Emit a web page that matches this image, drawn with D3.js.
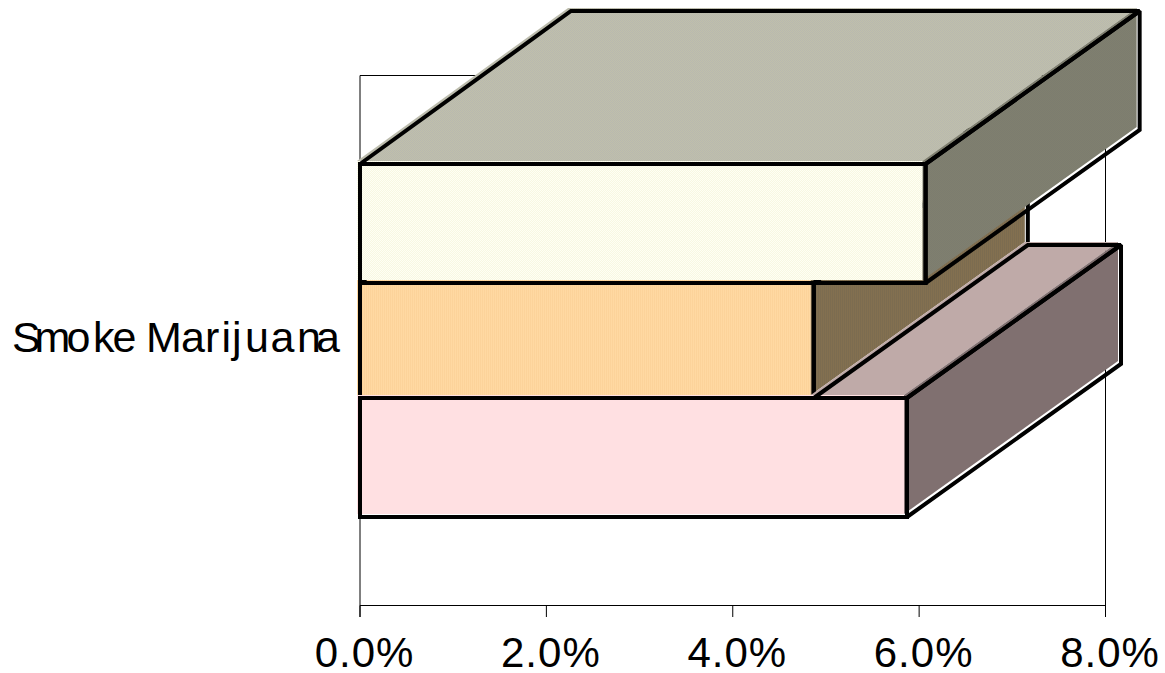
<!DOCTYPE html>
<html><head><meta charset="utf-8">
<script src="https://cdn.jsdelivr.net/npm/d3@7"></script>
<style>html,body{margin:0;padding:0;background:#fff}svg{display:block}text{font-family:"Liberation Sans",Arial,sans-serif;fill:#000}</style>
</head><body><div id="c"></div>
<script>
const category = "Smoke Marijuana";
const seriesNames = ["Series A", "Series B", "Series C"];
const seriesValues = [6.07, 4.87, 5.87];
const tickValues = [0, 2, 4, 6, 8];

const W = 1165, H = 673;
const svg = d3.select("#c").append("svg").attr("width", W).attr("height", H);
const defs = svg.append("defs");
function dither(id, a, b, stripes) {
  const p = defs.append("pattern").attr("id", id).attr("patternUnits", "userSpaceOnUse").attr("width", 2).attr("height", 2);
  p.append("rect").attr("width", 2).attr("height", 2).attr("fill", a).attr("shape-rendering", "crispEdges");
  if (stripes) {
    p.append("rect").attr("width", 1).attr("height", 2).attr("fill", b).attr("shape-rendering", "crispEdges");
  } else {
    p.append("rect").attr("width", 1).attr("height", 1).attr("fill", b).attr("shape-rendering", "crispEdges");
    p.append("rect").attr("x", 1).attr("y", 1).attr("width", 1).attr("height", 1).attr("fill", b).attr("shape-rendering", "crispEdges");
  }
  return `url(#${id})`;
}
const frontFills = [dither("f0", "#f8f8e2", "#fffff4"), dither("f1", "#ffd9a2", "#fcd39a", true), "#ffe0e2"];
const topFills = [dither("t0", "#c0c0aa", "#b8b8b0"), dither("t1", "#c0c0aa", "#b8b8b0"), "#bfaaa8"];
const sideFills = [dither("s0", "#80806e", "#7c7c70"), dither("s1", "#837050", "#7c6c50", true), "#807070"];

const x = d3.scaleLinear().domain([0, 8]).range([360, 1105.5]);
const y = d3.scaleLinear().domain([0, 1, 2, 3]).range([164, 283, 398, 517]);
const plotTop = 75.5, plotBottom = 605.5, tickEnd = 617;
const depthX = 214, backLeftDepthX = 211, depthY = 153, off = 3;

const line = d3.line();
const frame = svg.append("g").attr("fill", "none").attr("stroke", "#000").attr("stroke-width", 1);
frame.append("path").attr("d", line([[x(0), plotTop], [x(8), plotTop]]));
frame.append("path").attr("d", line([[x(0), plotBottom], [x(8), plotBottom]]));
frame.append("path").attr("d", line([[x(8), plotTop], [x(8), tickEnd]]));
frame.append("path").attr("d", line([[x(0), plotTop], [x(0), tickEnd]]));

const axis = d3.axisBottom(x).offset(0).tickValues(tickValues).tickFormat(d => d.toFixed(1) + "%").tickSize(tickEnd - plotBottom);
const ax = svg.append("g").attr("transform", `translate(0,${plotBottom})`).call(axis);
ax.select(".domain").remove();
ax.selectAll("line").attr("stroke", "#000");
ax.selectAll("text").attr("font-size", 42).attr("text-anchor", "middle").attr("dy", "0").attr("y", 61.5).attr("x", 4.5).attr("letter-spacing", 1);

const glyphX = [12, 34.5, 66.5, 93, 112.5, 136, 146, 181, 205, 221.5, 232, 245, 270.5, 297, 316];
svg.append("text").attr("x", glyphX.join(" ")).attr("y", 352).attr("font-size", 43).text(category);

const poly = (pts) => "M" + pts.map(p => p.join(",")).join("L") + "Z";
const shift = pts => pts.map(([a, b]) => [a - off, b - off]);
function bar(i, topStartValue) {
  const v = seriesValues[i];
  const x0 = x(0), x1 = x(v), t = y(i), b = y(i + 1);
  const front = [[x0, t], [x1, t], [x1, b], [x0, b]];
  const start = x(topStartValue);
  const backStart = topStartValue === 0 ? backLeftDepthX : depthX;
  const top = [[start, t], [x1, t], [x1 + depthX, t - depthY], [start + backStart, t - depthY]];
  const side = [[x1, t], [x1 + depthX, t - depthY], [x1 + depthX, b - depthY], [x1, b]];
  const g = svg.append("g").attr("class", "bar");
  g.append("path").attr("d", poly(shift(top))).attr("fill", topFills[i]);
  g.append("path").attr("d", poly(shift(front))).attr("fill", frontFills[i]);
  g.append("path").attr("d", poly(shift(side))).attr("fill", sideFills[i]);
  for (const f of [top, front, side]) {
    g.append("path").attr("d", poly(f)).attr("fill", "none").attr("stroke", "#000").attr("stroke-width", 4).attr("stroke-linejoin", "miter").attr("stroke-miterlimit", 2);
  }
}
bar(1, 0);
bar(2, seriesValues[1]);
bar(0, 0);
</script></body></html>
